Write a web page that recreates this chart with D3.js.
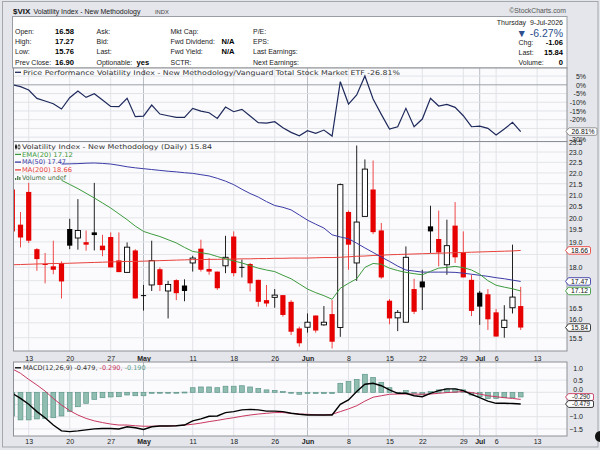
<!DOCTYPE html>
<html><head><meta charset="utf-8">
<script src="https://cdn.jsdelivr.net/npm/d3@7"></script>
<style>body{margin:0;background:#fff}svg{display:block}</style>
</head><body>
<script>
// ---------- DATA ----------
const dates = ["2026-04-09","2026-04-10","2026-04-13","2026-04-14","2026-04-15","2026-04-16","2026-04-17","2026-04-20","2026-04-21","2026-04-22","2026-04-23","2026-04-24","2026-04-27","2026-04-28","2026-04-29","2026-04-30",
"2026-05-01","2026-05-04","2026-05-05","2026-05-06","2026-05-07","2026-05-08","2026-05-11","2026-05-12","2026-05-13","2026-05-14","2026-05-15","2026-05-18","2026-05-19","2026-05-20","2026-05-21","2026-05-22","2026-05-26","2026-05-27","2026-05-28","2026-05-29",
"2026-06-01","2026-06-02","2026-06-03","2026-06-04","2026-06-05","2026-06-08","2026-06-09","2026-06-10","2026-06-11","2026-06-12","2026-06-15","2026-06-16","2026-06-17","2026-06-18","2026-06-22","2026-06-23","2026-06-24","2026-06-25","2026-06-26","2026-06-29","2026-06-30",
"2026-07-01","2026-07-02","2026-07-06","2026-07-07","2026-07-08","2026-07-09"];
const futureDates = ["2026-07-10","2026-07-13","2026-07-14","2026-07-15","2026-07-16"];
const tickDates = ["2026-04-13","2026-04-20","2026-04-27","2026-05-01","2026-05-11","2026-05-18","2026-05-26","2026-06-01","2026-06-08","2026-06-15","2026-06-22","2026-06-29","2026-07-01","2026-07-06","2026-07-13"];
const tickLabels = ["13","20","27","May","11","18","26","Jun","8","15","22","29","Jul","6","13"];
const monthLabels = ["May","Jun","Jul"];

const open = [21.24,19.71,21.13,18.71,18.13,18.04,18.17,19.53,19.16,18.99,
19.39,18.85,19.20,18.27,17.81,18.66,16.97,17.34,17.93,17.12,
17.52,17.32,18.17,18.73,17.94,17.84,18.06,19.22,18.02,18.13,
17.53,16.79,16.89,16.97,16.73,15.81,15.85,16.25,15.93,16.30,
15.84,20.25,18.17,20.06,21.24,19.47,16.77,16.17,16.02,17.19,
17.47,19.64,19.12,18.10,19.67,18.59,17.53,17.06,17.00,16.36,
15.84,16.52,16.58];
const high = [21.35,20.25,21.54,18.75,18.56,19.05,18.23,19.96,20.81,19.47,
21.54,19.29,19.39,19.39,18.98,18.71,17.34,19.05,18.00,17.49,
17.55,17.55,18.45,19.09,18.36,17.84,19.25,19.43,18.30,18.17,
17.53,17.34,17.19,16.97,16.79,15.87,16.32,16.25,16.58,16.79,
21.51,20.31,23.32,22.64,22.59,19.78,16.83,16.44,18.82,17.57,
17.91,20.52,20.31,19.92,20.68,19.43,17.72,17.12,17.19,16.48,
16.61,18.89,17.27];
const low = [19.40,18.78,18.96,17.87,17.40,17.74,16.85,18.71,18.69,18.65,
18.66,18.43,18.00,17.82,17.81,16.85,16.42,17.12,17.12,16.15,
16.79,16.75,17.84,17.84,17.72,17.16,17.78,17.66,17.62,17.10,
16.56,16.56,16.52,16.21,15.59,15.21,15.67,15.67,15.90,15.15,
15.53,17.91,17.49,20.06,19.32,17.57,15.95,15.72,16.02,16.30,
16.44,18.56,18.04,17.72,18.17,17.62,16.23,15.93,15.76,15.54,
15.50,16.32,15.76];
const close = [19.43,19.18,19.05,18.32,18.12,17.91,17.47,18.85,19.47,18.89,
19.28,18.67,18.00,17.82,18.79,16.85,16.96,18.26,17.34,17.36,
17.04,17.12,18.36,17.91,17.84,17.22,18.39,17.78,18.01,17.40,
16.73,16.67,16.97,16.27,15.70,15.32,16.02,15.74,16.02,15.37,
21.46,18.89,19.82,22.18,19.40,17.62,16.15,16.36,18.39,16.38,
17.25,19.43,18.58,18.85,18.39,17.62,16.41,16.56,16.12,15.54,
16.09,16.90,15.84];

const ema20 = [null,null,null,null,null,null,21.66,21.47,21.28,21.07,
20.86,20.64,20.42,20.17,19.92,19.65,19.43,19.32,19.22,19.09,
18.96,18.78,18.62,18.57,18.52,18.42,18.33,18.25,18.17,18.07,
17.97,17.90,17.84,17.70,17.57,17.38,17.19,17.06,16.95,16.82,
17.22,17.40,17.57,18.00,18.15,18.12,17.97,17.88,17.81,17.76,
17.72,17.85,17.97,18.00,18.04,17.99,17.90,17.74,17.50,17.33,
17.26,17.20,17.12];
const ma50 = [null,null,null,null,null,null,22.42,22.43,22.44,22.46,
22.47,22.45,22.42,22.36,22.29,22.24,22.20,22.16,22.12,22.08,
22.05,22.01,21.98,21.92,21.86,21.75,21.62,21.46,21.25,21.06,
20.90,20.70,20.53,20.45,20.34,20.12,19.90,19.73,19.57,19.29,
19.20,19.13,18.95,18.76,18.58,18.40,18.23,18.05,17.90,17.86,
17.82,17.82,17.82,17.82,17.81,17.78,17.74,17.70,17.66,17.61,
17.57,17.52,17.47];
const ma200 = [18.10,18.11,18.12,18.13,18.14,18.15,18.15,18.16,18.17,18.18,
18.19,18.20,18.21,18.22,18.23,18.23,18.24,18.25,18.26,18.27,
18.28,18.29,18.30,18.30,18.31,18.31,18.32,18.32,18.33,18.33,
18.34,18.34,18.35,18.35,18.36,18.36,18.36,18.37,18.38,18.38,
18.39,18.41,18.43,18.44,18.46,18.47,18.49,18.50,18.51,18.52,
18.53,18.54,18.55,18.56,18.57,18.58,18.59,18.60,18.61,18.62,
18.63,18.64,18.66];

const perf = [0,-1.07,-2.98,-7.77,-9.30,-10.83,-13.89,-7.38,-3.56,-7.19,
-5.09,-8.72,-12.36,-12.55,-7.77,-18.29,-17.91,-11.59,-16.76,-17.72,
-18.67,-18.67,-13.51,-15.04,-15.99,-19.25,-12.74,-15.42,-14.08,-17.91,
-21.73,-21.93,-21.16,-24.60,-27.28,-29.20,-26.33,-27.86,-25.94,-29.39,
1.80,-11.02,-5.85,5.06,-8.15,-16.95,-25.37,-24.03,-13.51,-24.03,
-19.63,-7.77,-12.17,-11.21,-12.93,-17.72,-24.03,-23.65,-24.99,-28.81,
-25.37,-21.54,-26.81];

const macd = [-0.04,-0.25,-0.49,-0.79,-1.04,-1.34,-1.58,-1.61,-1.58,-1.54,
-1.50,-1.48,-1.48,-1.50,-1.41,-1.45,-1.52,-1.41,-1.38,-1.38,
-1.37,-1.34,-1.17,-1.09,-0.98,-0.97,-0.83,-0.79,-0.72,-0.70,
-0.72,-0.77,-0.77,-0.79,-0.86,-0.90,-0.93,-0.93,-0.93,-0.93,
-0.49,-0.31,0.03,0.33,0.37,0.27,0.10,-0.04,-0.04,-0.14,
-0.18,-0.04,0.07,0.14,0.14,0.07,-0.08,-0.22,-0.36,-0.45,
-0.45,-0.46,-0.479];
const signal = [0.96,0.78,0.53,0.30,0.05,-0.25,-0.52,-0.75,-0.93,-1.07,
-1.17,-1.24,-1.30,-1.34,-1.34,-1.37,-1.39,-1.39,-1.38,-1.38,
-1.37,-1.34,-1.31,-1.26,-1.20,-1.15,-1.09,-1.04,-0.98,-0.93,
-0.89,-0.86,-0.83,-0.83,-0.86,-0.89,-0.90,-0.92,-0.93,-0.90,
-0.79,-0.68,-0.55,-0.36,-0.20,-0.14,-0.08,-0.07,-0.07,-0.07,
-0.08,-0.07,-0.04,-0.01,0.01,0.03,-0.01,-0.07,-0.14,-0.18,
-0.22,-0.25,-0.290];
const hist = [-0.97,-1.13,-1.13,-1.09,-1.07,-1.04,-0.97,-0.79,-0.59,-0.45,
-0.29,-0.22,-0.19,-0.18,-0.11,-0.14,-0.14,-0.04,-0.01,-0.01,
0.00,0.01,0.19,0.22,0.22,0.19,0.25,0.25,0.27,0.22,
0.16,0.10,0.08,0.03,-0.01,-0.08,-0.05,-0.05,-0.05,-0.05,
0.37,0.44,0.53,0.74,0.61,0.41,0.19,0.00,0.07,-0.01,
-0.08,0.03,0.10,0.14,0.14,0.10,-0.11,-0.18,-0.25,-0.25,
-0.22,-0.22,-0.190];

const mainTicks = [15.5,16.0,16.5,17.0,17.5,18.0,18.5,19.0,19.5,20.0,20.5,21.0,21.5,22.0,22.5,23.0,23.5];
const perfTicks = [5,0,-5,-10,-15,-20,-25,-30];
const macdTicks = [1.0,0.5,0.0,-0.5,-1.0,-1.5];

const info = {
  open:"16.58", high:"17.27", low:"15.76", prev:"16.90",
  date:"Thursday  9-Jul-2026", pct:"▼ -6.27%", chg:"-1.06", last:"15.84", volume:"0"
};
const mainTags = [[18.66,"18.66","#e8413b"],[17.47,"17.47","#3b3ba6"],[17.12,"17.12","#3d9a3d"],[15.84,"15.84","#222"]];

// ---------- LAYOUT ----------
const PL = 13, PR = 567;
const P = {
  perf:{top:68, bottom:141.5},
  main:{top:141.5, bottom:351},
  macd:{top:362, bottom:436}
};
const SANS = "Liberation Sans, Arial, sans-serif";
const LEG = "DejaVu Sans, Verdana, sans-serif";

const svg = d3.select("body").append("svg").attr("width",600).attr("height",450)
  .style("font-family", SANS);

svg.append("rect").attr("width",600).attr("height",450).attr("fill","#e4e6eb");
svg.append("rect").attr("x",2.5).attr("y",1.5).attr("width",595.5).attr("height",445.5)
  .attr("fill","none").attr("stroke","#a3a7ae");

const allDates = dates.concat(futureDates);
const x = d3.scalePoint().domain(allDates).range([12.3, 12.3 + 8.2*(allDates.length-1)]);

const yPerf = d3.scaleLinear().domain([-32.5, 9.64]).range([P.perf.bottom, P.perf.top]);
const yMain = d3.scaleLog().domain([15.07, 23.52]).range([P.main.bottom, P.main.top]);
const yMacd = d3.scaleLinear().domain([-1.79, 1.243]).range([P.macd.bottom, P.macd.top]);

// ---------- HEADER ----------
const hdr = svg.append("g");
hdr.append("text").attr("x",13).attr("y",13.5).attr("font-size",8).attr("font-weight","bold").attr("fill","#111").text("$VIX");
hdr.append("text").attr("x",33.5).attr("y",13.5).attr("font-size",7).attr("fill","#222").text("Volatility Index - New Methodology");
hdr.append("text").attr("x",155).attr("y",13.5).attr("font-size",5.8).attr("fill","#444").text("INDX");
hdr.append("text").attr("x",566).attr("y",13).attr("font-size",6.8).attr("fill","#555").attr("text-anchor","end").text("©StockCharts.com");

hdr.append("rect").attr("x",12.5).attr("y",16.5).attr("width",554.5).attr("height",51.5)
  .attr("fill","#fff").attr("stroke","#9a9da3");

const rows = [34.3, 44.3, 54.3, 64.5];
function lab(xp, y, t, bold){ hdr.append("text").attr("x",xp).attr("y",y).attr("font-size",bold?7.6:7)
  .attr("font-weight",bold?"bold":"normal").attr("fill",bold?"#000":"#222").text(t); }
lab(15,rows[0],"Open:"); lab(55,rows[0],info.open,true);
lab(15,rows[1],"High:"); lab(55,rows[1],info.high,true);
lab(15,rows[2],"Low:"); lab(55,rows[2],info.low,true);
lab(15,rows[3],"Prev Close:"); lab(55,rows[3],info.prev,true);
lab(96.5,rows[0],"Ask:"); lab(96.5,rows[1],"Bid:"); lab(96.5,rows[2],"Last:");
lab(96.5,rows[3],"Optionable:"); lab(136.5,rows[3],"yes",true);
lab(170.5,rows[0],"Mkt Cap:"); lab(170.5,rows[1],"Fwd Dividend:"); lab(221.5,rows[1],"N/A",true);
lab(170.5,rows[2],"Fwd Yield:"); lab(221.5,rows[2],"N/A",true); lab(170.5,rows[3],"SCTR:");
lab(253,rows[0],"P/E:"); lab(253,rows[1],"EPS:"); lab(253,rows[2],"Last Earnings:"); lab(253,rows[3],"Next Earnings:");

hdr.append("text").attr("x",563).attr("y",25).attr("font-size",7).attr("fill","#222").attr("text-anchor","end")
  .attr("xml:space","preserve").text(info.date);
hdr.append("text").attr("x",563).attr("y",36.5).attr("font-size",10.5).attr("fill","#2d4f8e").attr("text-anchor","end").text(info.pct);
[["Chg:",info.chg,45],["Last:",info.last,54.5],["Volume:",info.volume,64.5]].forEach(r=>{
  hdr.append("text").attr("x",518.5).attr("y",r[2]).attr("font-size",7).attr("fill","#222").text(r[0]);
  hdr.append("text").attr("x",563).attr("y",r[2]).attr("font-size",7.6).attr("font-weight","bold").attr("text-anchor","end").attr("fill","#000").text(r[1]);
});

// ---------- PANELS ----------
function panel(key){
  const p = P[key];
  const g = svg.append("g");
  g.append("rect").attr("x",PL).attr("y",p.top).attr("width",PR-PL).attr("height",p.bottom-p.top).attr("fill","#fbfbfd");
  const cid = "clip-"+key;
  svg.append("clipPath").attr("id",cid).append("rect").attr("x",PL).attr("y",p.top).attr("width",PR-PL).attr("height",p.bottom-p.top);
  const grid = g.append("g");
  tickDates.forEach((d,i)=>{
    grid.append("line").attr("x1",x(d)).attr("x2",x(d)).attr("y1",p.top).attr("y2",p.bottom)
      .attr("stroke", monthLabels.includes(tickLabels[i]) ? "#b9bdc4" : "#e1e3e7").attr("stroke-width",1);
  });
  const data = g.append("g").attr("clip-path",`url(#${cid})`);
  return {g, grid, data, p};
}
function border(pn){
  pn.g.append("rect").attr("x",PL+0.5).attr("y",pn.p.top).attr("width",PR-PL-0.5).attr("height",pn.p.bottom-pn.p.top)
    .attr("fill","none").attr("stroke","#8d9096");
}
function tag(y, txt, stroke, x0, w, h, fs){
  const g = svg.append("g");
  g.append("path").attr("d",`M${x0},${y} L${x0+3},${y-h/2} H${x0+w-1.5} Q${x0+w},${y-h/2} ${x0+w},${y-h/2+1.5} V${y+h/2-1.5} Q${x0+w},${y+h/2} ${x0+w-1.5},${y+h/2} H${x0+3} Z`)
    .attr("fill","#fff").attr("stroke",stroke).attr("stroke-width",0.9);
  g.append("text").attr("x",x0+3+(w-3)/2).attr("y",y+fs*0.36).attr("text-anchor","middle")
    .attr("font-size",fs).attr("fill","#111").text(txt);
}
// labels fully hidden under a value tag are left out (the tags cover them in the reference);
// labels only partly covered are nudged clear of the tag
function rightAxis(scale, ticks, fmt, xr, tagYs, gap, clear){
  const shown = ticks.filter(t => tagYs.every(ty => Math.abs(scale(t)-ty) > gap));
  const g = svg.append("g").attr("transform",`translate(${xr},0)`)
    .call(d3.axisRight(scale).tickValues(shown).tickFormat(fmt).tickSize(0).tickPadding(0));
  g.select(".domain").remove();
  g.selectAll("text").attr("x",0).attr("text-anchor","end").attr("font-size",7)
    .attr("font-family",SANS).attr("fill","#222")
    .attr("y", t => {
      const yy = scale(t);
      for (const ty of tagYs) {
        const d = yy - ty;
        if (Math.abs(d) < clear) return (d < 0 ? -clear : clear) - d;
      }
      return 0;
    });
}
function dateAxis(y){
  const g = svg.append("g").attr("transform",`translate(0,${y})`)
    .call(d3.axisBottom(x).tickValues(tickDates).tickFormat((d,i)=>tickLabels[i]).tickSize(0).tickPadding(0));
  g.select(".domain").remove();
  g.selectAll("text").attr("y",0).attr("dy",0).attr("font-size",7).attr("font-family",SANS).attr("fill","#222")
    .attr("font-weight",(d,i)=>monthLabels.includes(tickLabels[i])?"bold":"normal");
}

// ---- perf panel
const pp = panel("perf");
perfTicks.forEach(t=>{
  pp.grid.append("line").attr("x1",PL).attr("x2",PR).attr("y1",yPerf(t)).attr("y2",yPerf(t))
    .attr("stroke", t===0 ? "#9ca0a7" : "#e1e3e7");
});
pp.data.append("path").datum(perf).attr("fill","none").attr("stroke","#1f2a5c").attr("stroke-width",1.2)
  .attr("d", d3.line().x((d,i)=>x(dates[i])).y(d=>yPerf(d)));
pp.g.append("line").attr("x1",15).attr("x2",21).attr("y1",72.3).attr("y2",72.3).attr("stroke","#1f2a5c").attr("stroke-width",1.3);
pp.g.append("text").attr("x",23).attr("y",74.5).attr("font-family",LEG).attr("font-size",6.5).attr("fill","#333")
  .attr("textLength",377).attr("lengthAdjust","spacingAndGlyphs")
  .text("Price Performance Volatility Index - New Methodology/Vanguard Total Stock Market ETF -26.81%");
border(pp);
const perfTagY = yPerf(-26.81);
rightAxis(yPerf, perfTicks, d=>d+"%", 586, [perfTagY], 4.5, 8);

// ---- main panel
const mp = panel("main");
mainTicks.forEach(t=>{
  mp.grid.append("line").attr("x1",PL).attr("x2",PR).attr("y1",yMain(t)).attr("y2",yMain(t)).attr("stroke","#e3e5e9");
});
const cg = mp.data.append("g");
dates.forEach((d,i)=>{
  const o=open[i], c=close[i], h=high[i], l=low[i];
  const prev = i>0 ? close[i-1] : o;
  const red = c < prev;
  const col = red ? "#e60000" : "#000";
  const xc = x(d);
  cg.append("line").attr("x1",xc).attr("x2",xc).attr("y1",yMain(h)).attr("y2",yMain(l))
    .attr("stroke", red ? "#f04848" : "#222").attr("stroke-width",1);
  const yt = yMain(Math.max(o,c)), yb = yMain(Math.min(o,c));
  const hollow = c > o;
  cg.append("rect").attr("x",xc-2.6).attr("width",5.2).attr("y",yt).attr("height",Math.max(1,yb-yt))
    .attr("fill", hollow ? "#fff" : col).attr("stroke", hollow ? col : "none").attr("stroke-width",0.9);
});
const lineMain = d3.line().defined(d=>d!=null).x((d,i)=>x(dates[i])).y(d=>yMain(d));
mp.data.append("path").datum(ma200).attr("fill","none").attr("stroke","#e8413b").attr("stroke-width",1).attr("d",lineMain);
mp.data.append("path").datum(ma50).attr("fill","none").attr("stroke","#3b3ba6").attr("stroke-width",1).attr("d",lineMain);
mp.data.append("path").datum(ema20).attr("fill","none").attr("stroke","#3d9a3d").attr("stroke-width",1).attr("d",lineMain);

// legend
const lg = mp.g.append("g").attr("font-family",LEG).attr("font-size",6.5);
lg.append("line").attr("x1",16).attr("x2",16).attr("y1",144.3).attr("y2",149.5).attr("stroke","#222");
lg.append("rect").attr("x",15).attr("y",145.3).attr("width",2).attr("height",3).attr("fill","#222");
lg.append("line").attr("x1",19).attr("x2",19).attr("y1",144.3).attr("y2",149.5).attr("stroke","#222");
lg.append("rect").attr("x",18).attr("y",145.8).attr("width",2).attr("height",2.5).attr("fill","#fff").attr("stroke","#222").attr("stroke-width",0.6);
lg.append("text").attr("x",22).attr("y",149.2).attr("fill","#333").attr("textLength",190).attr("lengthAdjust","spacingAndGlyphs")
  .text("Volatility Index - New Methodology (Daily) 15.84");
[["EMA(20) 17.12","#3d9a3d",156.6,51],["MA(50) 17.47","#3b3ba6",164.3,44],["MA(200) 18.66","#e8413b",172.1,50]].forEach(r=>{
  lg.append("line").attr("x1",15).attr("x2",21).attr("y1",r[2]-2.2).attr("y2",r[2]-2.2).attr("stroke",r[1]).attr("stroke-width",1.3);
  lg.append("text").attr("x",22).attr("y",r[2]).attr("fill",r[1]).attr("textLength",r[3]).attr("lengthAdjust","spacingAndGlyphs").text(r[0]);
});
[0,1.5,3].forEach((dx,k)=>{
  lg.append("rect").attr("x",15+dx*1.4).attr("y",176+[2,0,1][k]).attr("width",1.3).attr("height",4-[2,0,1][k]).attr("fill","#4a7a4a");
});
lg.append("text").attr("x",22).attr("y",179.8).attr("fill","#3f6f3f").attr("textLength",44).attr("lengthAdjust","spacingAndGlyphs").text("Volume undef");
border(mp);
rightAxis(yMain, mainTicks, d3.format(".1f"), 582.5, mainTags.map(t=>yMain(t[0])), 4.5, 7.8);
mainTags.forEach(t => tag(yMain(t[0]), t[1], t[2], 565.5, 25, 7.5, 6.8));
tag(perfTagY,"26.81%","#888",566,31,7.5,6.8);

dateAxis(360.5);

// ---- MACD panel
const dp = panel("macd");
macdTicks.forEach(t=>{
  dp.grid.append("line").attr("x1",PL).attr("x2",PR).attr("y1",yMacd(t)).attr("y2",yMacd(t)).attr("stroke","#e1e3e7");
});
const hg = dp.data.append("g");
hist.forEach((v,i)=>{
  const y0 = yMacd(0), y1 = yMacd(v);
  hg.append("rect").attr("x",x(dates[i])-2.4).attr("width",4.8)
    .attr("y",Math.min(y0,y1)).attr("height",Math.max(0.9,Math.abs(y1-y0)))
    .attr("fill","#8fbdaf").attr("stroke","#5f968a").attr("stroke-width",0.7);
});
const lineM = d3.line().x((d,i)=>x(dates[i])).y(d=>yMacd(d));
dp.data.append("path").datum(signal).attr("fill","none").attr("stroke","#c8375f").attr("stroke-width",1).attr("d",lineM);
dp.data.append("path").datum(macd).attr("fill","none").attr("stroke","#000").attr("stroke-width",1.4).attr("d",lineM);
dp.g.append("line").attr("x1",15).attr("x2",21).attr("y1",367.8).attr("y2",367.8).attr("stroke","#000").attr("stroke-width",1.3);
const mt = dp.g.append("text").attr("x",23).attr("y",370).attr("font-family",LEG).attr("font-size",6.5);
mt.append("tspan").attr("fill","#333").text("MACD(12,26,9) -0.479, ");
mt.append("tspan").attr("fill","#c8375f").text("-0.290, ");
mt.append("tspan").attr("fill","#5f9e8f").text("-0.190");
border(dp);
const yb479 = yMacd(-0.479), yb290 = Math.min(yMacd(-0.290), yb479 - 7);
rightAxis(yMacd, macdTicks, d3.format(".1f"), 583, [yb479, yb290], 4.2, 7.6);
tag(yb290,"-0.290","#c8375f",565.5,28,6.8,6.3);
tag(yb479,"-0.479","#222",565.5,28,6.8,6.3);

dateAxis(444.3);

svg.append("circle").attr("cx",600.5).attr("cy",436.5).attr("r",5.5).attr("fill","#111");
</script>
</body></html>
